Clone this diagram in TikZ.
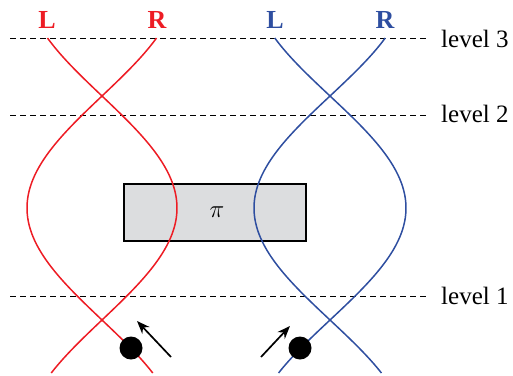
\documentclass[tikz,border=0pt]{standalone}
\usepackage{fontspec}
\setmainfont{Liberation Serif}
\usetikzlibrary{arrows.meta}
\definecolor{myred}{RGB}{237,28,36}
\definecolor{myblue}{RGB}{46,78,160}
\definecolor{boxgray}{RGB}{220,221,223}
\begin{document}
\begin{tikzpicture}[x=1pt,y=-1pt,
  levelline/.style={black,line width=0.9pt,dash pattern=on 6pt off 4pt},
  levellabel/.style={anchor=west,font=\fontsize{25}{28}\selectfont,inner sep=0pt},
  strand/.style={line width=1.5pt},
  lrlabel/.style={font=\fontsize{26}{28}\selectfont\bfseries,inner sep=0pt},
  dotnode/.style={circle,fill=black,minimum size=23pt,inner sep=0pt},
  spinarrow/.style={black,line width=1.7pt,-{Stealth[length=13pt,width=10pt]}}]
\useasboundingbox (0,0) rectangle (513,375);
% level lines
\coordinate (l3a) at (10,38);  \coordinate (l3b) at (428,38);
\coordinate (l2a) at (10,115); \coordinate (l2b) at (428,115);
\coordinate (l1a) at (10,296); \coordinate (l1b) at (428,296);
\draw[levelline] (l3a) -- (l3b);
\draw[levelline] (l2a) -- (l2b);
\draw[levelline] (l1a) -- (l1b);
\node[levellabel] (lab3) at (441,39) {level 3};
\node[levellabel] (lab2) at (441,114) {level 2};
\node[levellabel] (lab1) at (441,296) {level 1};
% box
\node[draw=black,line width=1.6pt,fill=boxgray,minimum width=182pt,minimum height=57pt,inner sep=0pt] (pibox) at (215,212.5) {};
\node[font=\fontsize{26}{28}\selectfont] (pi) at (217,212) {$\pi$};
% red strands
\draw[strand,myred] plot[domain=38:373,samples=120,smooth] ({102+75*sin(0.803571*(\x-96))},\x);
\draw[strand,myred] plot[domain=38:373,samples=120,smooth] ({102-75*sin(0.803571*(\x-96))},\x);
% blue strands
\draw[strand,myblue] plot[domain=38:373,samples=120,smooth] ({330-76*sin(0.803571*(\x-96))},\x);
\draw[strand,myblue] plot[domain=38:373,samples=120,smooth] ({330+76*sin(0.803571*(\x-96))},\x);
% labels
\node[lrlabel,myred] (rL) at (47,20) {L};
\node[lrlabel,myred] (rR) at (157,20) {R};
\node[lrlabel,myblue] (bL) at (275,20) {L};
\node[lrlabel,myblue] (bR) at (385,20) {R};
% dots and arrows
\node[dotnode] (rdot) at (131,348) {};
\node[dotnode] (bdot) at (300,348) {};
\coordinate (ra1) at (171,357); \coordinate (ra2) at (137,321);
\coordinate (ba1) at (261,357); \coordinate (ba2) at (290,326);
\draw[spinarrow] (ra1) -- (ra2);
\draw[spinarrow] (ba1) -- (ba2);
\end{tikzpicture}
\end{document}
